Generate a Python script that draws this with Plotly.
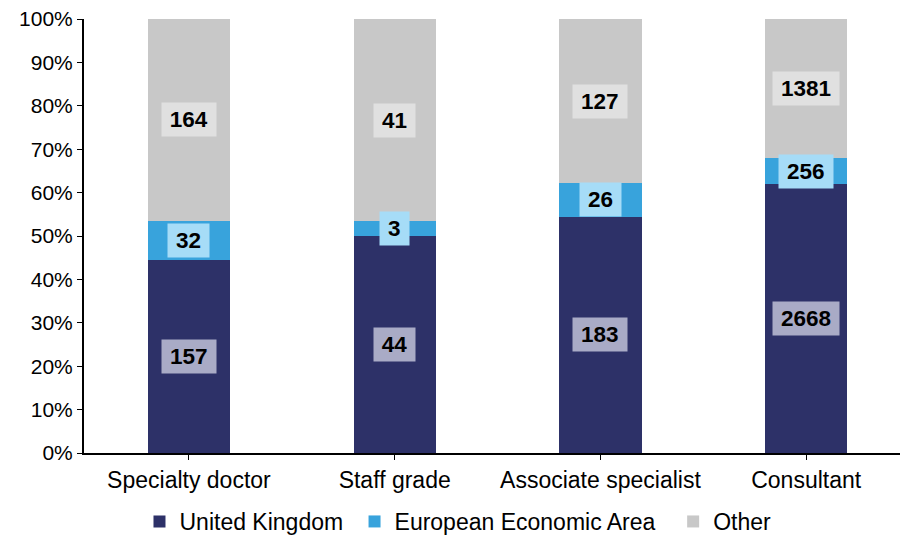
import plotly.graph_objects as go

categories = ["Specialty doctor", "Staff grade", "Associate specialist", "Consultant"]
series_names = ["United Kingdom", "European Economic Area", "Other"]
uk = [157, 44, 183, 2668]
eea = [32, 3, 26, 256]
other = [164, 41, 127, 1381]
y_ticks = [0, 0.1, 0.2, 0.3, 0.4, 0.5, 0.6, 0.7, 0.8, 0.9, 1.0]

series = [uk, eea, other]
colors = ["#2d3168", "#38a3dc", "#c8c8c8"]
box_colors = ["#a9abc6", "#a6dcf7", "#e0e0e0"]
legend_pad = ["\u00a0", "\u00a0\u00a0", ""]  # trailing spacing between legend entries

totals = [sum(v) for v in zip(*series)]
fracs = [[v / t for v, t in zip(s, totals)] for s in series]

fig = go.Figure()
for name, fr, col, pad in zip(series_names, fracs, colors, legend_pad):
    fig.add_trace(go.Bar(
        x=list(range(len(categories))), y=fr, name=name + pad,
        marker=dict(color=col, line=dict(width=0)),
        width=0.4,
    ))

annotations = []
for i in range(len(categories)):
    base = 0.0
    for k, s in enumerate(series):
        f = fracs[k][i]
        txt = str(s[i])
        annotations.append(dict(
            x=i, y=base + f / 2, xref="x", yref="y",
            text=f"<b>{txt}</b>", showarrow=False,
            font=dict(family="Liberation Sans, Arial", size=22.5, color="#000000"),
            bgcolor=box_colors[k], borderpad=0,
            height=33, width=len(txt) * 12.5 + 16,
        ))
        base += f

fig.update_layout(
    width=900, height=543,
    barmode="stack", bargap=0.6,
    plot_bgcolor="white", paper_bgcolor="white",
    margin=dict(l=84, r=0, t=19, b=90),
    font=dict(family="Liberation Sans, Arial", color="#000000"),
    showlegend=True,
    legend=dict(orientation="h", x=0.068, xanchor="left",
                yref="container", y=-0.011, yanchor="bottom",
                font=dict(size=23), itemwidth=30, traceorder="normal"),
    annotations=annotations,
    xaxis=dict(
        range=[-0.51, 3.456], tickmode="array",
        tickvals=list(range(len(categories))), ticktext=categories,
        showline=True, linecolor="#000000", linewidth=2,
        ticks="outside", ticklen=5, tickcolor="#000000",
        tickfont=dict(size=23), showgrid=False, zeroline=False,
    ),
    yaxis=dict(
        range=[0, 1], tickmode="array", tickvals=y_ticks, tickformat=".0%",
        showline=True, linecolor="#000000", linewidth=2,
        ticks="outside", ticklen=5, tickcolor="#000000",
        tickfont=dict(size=21), showgrid=False, zeroline=False,
    ),
)

fig.write_html("out.html", config={"displayModeBar": False},
               post_script="document.body.style.margin='0';document.body.style.overflow='hidden';")
